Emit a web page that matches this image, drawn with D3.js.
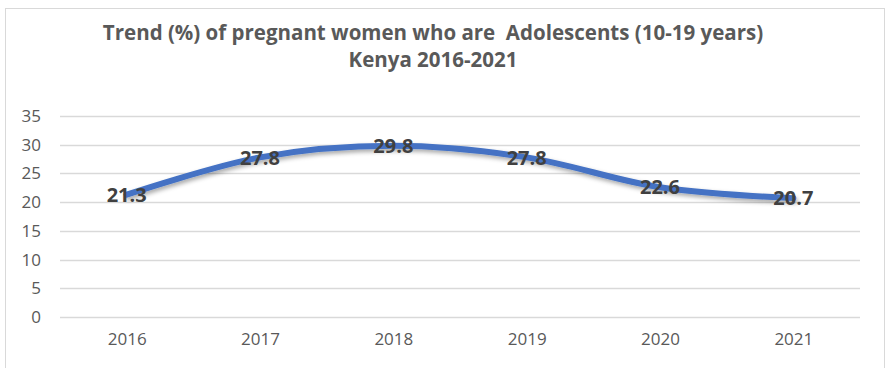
<!DOCTYPE html>
<html>
<head>
<meta charset="utf-8">
<script src="https://cdn.jsdelivr.net/npm/d3@7"></script>
<style>
  body { margin: 0; background: #fff; }
  text { font-family: "Open Sans", "Liberation Sans", sans-serif; }
</style>
</head>
<body>
<div id="chart"></div>
<script>
var years = ["2016", "2017", "2018", "2019", "2020", "2021"]
var values = [21.3, 27.8, 29.8, 27.8, 22.6, 20.7]
var yTicks = [0, 5, 10, 15, 20, 25, 30, 35]
var titleLines = ["Trend (%) of pregnant women who are  Adolescents (10-19 years)", "Kenya 2016-2021"]

var width = 888
    height = 368
    margin = {top: 116, right: 28, bottom: 51, left: 60}

var svg = d3.select("#chart")
  .append("svg")
    .attr("width", width)
    .attr("height", height)

// outer chart border
svg.append("rect")
  .attr("x", 5.5).attr("y", 8.5)
  .attr("width", 879).attr("height", 370)
  .attr("fill", "none")
  .attr("stroke", "#d9d9d9")

var x = d3.scalePoint()
  .domain(years)
  .range([margin.left, width - margin.right])
  .padding(0.5)

var y = d3.scaleLinear()
  .domain([0, 35])
  .range([height - margin.bottom, margin.top])

// gridlines
svg.append("g")
  .selectAll("line")
  .data(yTicks)
  .enter().append("line")
    .attr("x1", margin.left)
    .attr("x2", width - margin.right)
    .attr("y1", function(d) { return Math.round(y(d)) + 0.5 })
    .attr("y2", function(d) { return Math.round(y(d)) + 0.5 })
    .attr("stroke", "#d9d9d9")
    .attr("stroke-width", 1.5)

// y axis labels
var yAxis = svg.append("g")
  .attr("transform", "translate(" + (margin.left - 19) + ",0)")
  .call(d3.axisLeft(y).tickValues(yTicks).tickSize(0).tickPadding(0))
yAxis.select(".domain").remove()
yAxis.selectAll("text")
  .attr("fill", "#595959")
  .style("font-size", "17px")

// x axis labels
var xAxis = svg.append("g")
  .attr("transform", "translate(0," + (height - margin.bottom + 16) + ")")
  .call(d3.axisBottom(x).tickSize(0).tickPadding(0))
xAxis.select(".domain").remove()
xAxis.selectAll("text")
  .attr("fill", "#595959")
  .style("font-size", "17px")

// shadow for the line
var defs = svg.append("defs")
var filter = defs.append("filter").attr("id", "shadow")
  .attr("x", "-10%").attr("y", "-50%").attr("width", "120%").attr("height", "200%")
filter.append("feDropShadow")
  .attr("dx", 1.5).attr("dy", 2.5)
  .attr("stdDeviation", 2)
  .attr("flood-color", "#000")
  .attr("flood-opacity", 0.35)

var line = d3.line()
  .x(function(d, i) { return x(years[i]) })
  .y(function(d) { return y(d) })
  .curve(d3.curveCatmullRom.alpha(0.5))

svg.append("path")
  .datum(values)
  .attr("d", line)
  .attr("fill", "none")
  .attr("stroke", "#4472c4")
  .attr("stroke-width", 6)
  .attr("stroke-linecap", "round")
  .attr("filter", "url(#shadow)")

// data labels
svg.append("g")
  .selectAll("text")
  .data(values)
  .enter().append("text")
    .attr("x", function(d, i) { return x(years[i]) })
    .attr("y", function(d) { return y(d) })
    .attr("dy", "0.36em")
    .attr("text-anchor", "middle")
    .attr("fill", "#404040")
    .style("font-size", "20px")
    .style("font-weight", "bold")
    .text(function(d) { return d.toFixed(1) })

// title
svg.append("g")
  .selectAll("text")
  .data(titleLines)
  .enter().append("text")
    .attr("x", 433)
    .attr("y", function(d, i) { return 40 + i * 27 })
    .attr("text-anchor", "middle")
    .attr("fill", "#595959")
    .style("font-size", "20.5px")
    .style("font-weight", "bold")
    .style("white-space", "pre")
    .text(function(d) { return d })
</script>
</body>
</html>
